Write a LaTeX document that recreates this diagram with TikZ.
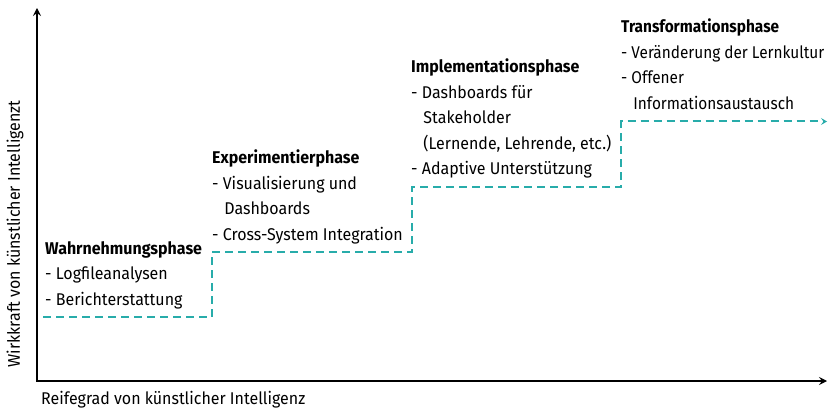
\documentclass[tikz,border=0pt]{standalone}
\usepackage{fontspec}
\setmainfont{Fira Sans}[FakeStretch=0.94]
\newfontfamily\narrowfont{Fira Sans}[FakeStretch=0.905]
\usetikzlibrary{arrows.meta}
\definecolor{stepteal}{RGB}{40,172,170}
\tikzset{
  axis/.style={line width=2.4pt, -{Stealth[length=8pt,width=8pt,inset=3pt]}},
  stair/.style={stepteal, line width=2pt, dash pattern=on 8pt off 5pt, -{Stealth[length=6pt,width=7pt,inset=2.5pt]}},
  phase/.style={anchor=north west, inner sep=0pt, align=left, font=\fontsize{17}{25.5}\selectfont},
  axlabel/.style={inner sep=0pt, font=\fontsize{17}{20}\selectfont},
}
\newcommand{\ind}{\hspace*{0.72em}}
\begin{document}
\begin{tikzpicture}[x=1pt,y=-1pt]
\useasboundingbox (0,0) rectangle (828,409);
% axes
\coordinate (O) at (37,381);
\coordinate (Ytop) at (37,8);
\coordinate (Xend) at (827,381);
\draw[axis, line cap=rect] (O) -- (Ytop);
\draw[axis] (O) -- (Xend);
% staircase
\coordinate (s0) at (43,317);
\coordinate (s1) at (211.5,317);
\coordinate (s2) at (211.5,252);
\coordinate (s3) at (411.5,252);
\coordinate (s4) at (411.5,187);
\coordinate (s5) at (621,187);
\coordinate (s6) at (621,121.5);
\coordinate (s7) at (827,121.5);
\draw[stair] (s0) -- (s1) -- (s2) -- (s3) -- (s4) -- (s5) -- (s6) -- (s7);
% phases
\node[phase] (p1) at (45,241) {\textbf{Wahrnehmungsphase}\\- Logfileanalysen\\- Berichterstattung};
\node[phase] (p2) at (212,150) {\textbf{Experimentierphase}\\- Visualisierung und\\\ind Dashboards\\- Cross-System Integration};
\node[phase] (p3) at (411,59) {\textbf{Implementationsphase}\\- Dashboards für\\\ind Stakeholder\\\ind(Lernende, Lehrende, etc.)\\- Adaptive Unterstützung};
\node[phase, font=\fontsize{17}{25.5}\selectfont\narrowfont] (p4) at (621,19) {\textbf{Transformationsphase}\\- Veränderung der Lernkultur\\- Offener\\\ind Informationsaustausch};
% axis labels
\node[axlabel, anchor=west] (xl) at (41,400) {Reifegrad von künstlicher Intelligenz};
\node[axlabel, rotate=90] (yl) at (15,234) {Wirkkraft von künstlicher Intelligenzt};
\end{tikzpicture}
\end{document}
